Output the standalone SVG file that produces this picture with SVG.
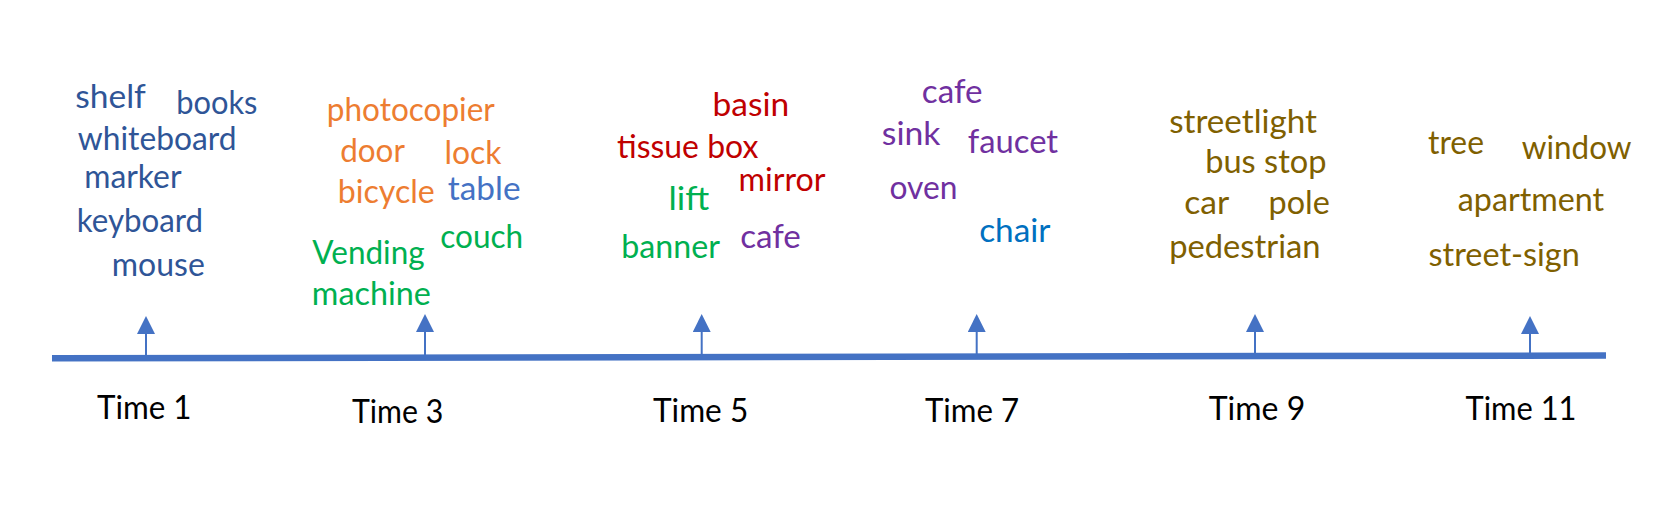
<svg xmlns="http://www.w3.org/2000/svg" width="1661" height="519" viewBox="0 0 1661 519">
<style>
text{font-family:Lato,"Open Sans","Liberation Sans",sans-serif;font-size:32px}
.b1{fill:#2F5597}.or{fill:#ED7D31}.bl{fill:#4472C4}.gr{fill:#00B050}.rd{fill:#C00000}.pu{fill:#7030A0}.cb{fill:#0070C0}.ol{fill:#7F6000}.tm{fill:#000000}
.stem{stroke:#4472C4;stroke-width:2;fill:none}
.axis{stroke:#4472C4;stroke-width:6.5;fill:none}
</style>
<defs>
<marker id="head" markerUnits="userSpaceOnUse" markerWidth="18" markerHeight="18" viewBox="0 0 17 17" refX="0" refY="8.5" orient="auto">
<path d="M0,0 L17,8.5 L0,17 z" fill="#4472C4"/>
</marker>
</defs>
<rect width="1661" height="519" fill="#ffffff"/>
<g id="connectors">
<line class="axis" x1="52" y1="358.3" x2="1606" y2="355.5"/>
<line class="stem" x1="146" y1="357" x2="146" y2="334" marker-end="url(#head)"/>
<line class="stem" x1="425" y1="357" x2="425" y2="332" marker-end="url(#head)"/>
<line class="stem" x1="701.7" y1="357" x2="701.7" y2="332" marker-end="url(#head)"/>
<line class="stem" x1="976.7" y1="356" x2="976.7" y2="332" marker-end="url(#head)"/>
<line class="stem" x1="1255" y1="356" x2="1255" y2="332" marker-end="url(#head)"/>
<line class="stem" x1="1530" y1="356" x2="1530" y2="334" marker-end="url(#head)"/>
</g>
<g id="time1">
<text class="b1" x="75.2" y="107.7" textLength="70.7" lengthAdjust="spacingAndGlyphs">shelf</text>
<text class="b1" x="176.2" y="114.3" textLength="81.3" lengthAdjust="spacingAndGlyphs">books</text>
<text class="b1" x="77.8" y="150" textLength="158.7" lengthAdjust="spacingAndGlyphs">whiteboard</text>
<text class="b1" x="84.2" y="187.7" textLength="97.3" lengthAdjust="spacingAndGlyphs">marker</text>
<text class="b1" x="76.8" y="231.7" textLength="126.3" lengthAdjust="spacingAndGlyphs">keyboard</text>
<text class="b1" x="111.8" y="276" textLength="93" lengthAdjust="spacingAndGlyphs">mouse</text>
<text class="tm" x="97" y="419.3" textLength="94.5" lengthAdjust="spacingAndGlyphs">Time 1</text>
</g>
<g id="time3">
<text class="or" x="326.8" y="121" textLength="168" lengthAdjust="spacingAndGlyphs">photocopier</text>
<text class="or" x="340.2" y="161.7" textLength="64.7" lengthAdjust="spacingAndGlyphs">door</text>
<text class="or" x="444.5" y="164.3" textLength="57" lengthAdjust="spacingAndGlyphs">lock</text>
<text class="or" x="337.8" y="203.3" textLength="97" lengthAdjust="spacingAndGlyphs">bicycle</text>
<text class="bl" x="447.8" y="200" textLength="72.7" lengthAdjust="spacingAndGlyphs">table</text>
<text class="gr" x="440.2" y="247.7" textLength="83" lengthAdjust="spacingAndGlyphs">couch</text>
<text class="gr" x="312.3" y="264" textLength="112.3" lengthAdjust="spacingAndGlyphs">Vending</text>
<text class="gr" x="311.8" y="305" textLength="119" lengthAdjust="spacingAndGlyphs">machine</text>
<text class="tm" x="352" y="422.7" textLength="91.3" lengthAdjust="spacingAndGlyphs">Time 3</text>
</g>
<g id="time5">
<text class="rd" x="712.5" y="116" textLength="76.7" lengthAdjust="spacingAndGlyphs">basin</text>
<text class="rd" x="617" y="157.7" textLength="141.3" lengthAdjust="spacingAndGlyphs">tissue box</text>
<text class="rd" x="738.5" y="191" textLength="87" lengthAdjust="spacingAndGlyphs">mirror</text>
<text class="gr" x="668.5" y="210" textLength="40.7" lengthAdjust="spacingAndGlyphs">lift</text>
<text class="gr" x="621.2" y="257.7" textLength="98.7" lengthAdjust="spacingAndGlyphs">banner</text>
<text class="pu" x="740.2" y="248.3" textLength="60.7" lengthAdjust="spacingAndGlyphs">cafe</text>
<text class="tm" x="653" y="421.7" textLength="95.2" lengthAdjust="spacingAndGlyphs">Time 5</text>
</g>
<g id="time7">
<text class="pu" x="921.8" y="103.3" textLength="60.7" lengthAdjust="spacingAndGlyphs">cafe</text>
<text class="pu" x="881.8" y="145" textLength="58.7" lengthAdjust="spacingAndGlyphs">sink</text>
<text class="pu" x="967.8" y="153.3" textLength="90.3" lengthAdjust="spacingAndGlyphs">faucet</text>
<text class="pu" x="889.5" y="199.3" textLength="68" lengthAdjust="spacingAndGlyphs">oven</text>
<text class="cb" x="979.2" y="242.3" textLength="71.3" lengthAdjust="spacingAndGlyphs">chair</text>
<text class="tm" x="925" y="421.7" textLength="94.2" lengthAdjust="spacingAndGlyphs">Time 7</text>
</g>
<g id="time9">
<text class="ol" x="1169.2" y="133.3" textLength="147.7" lengthAdjust="spacingAndGlyphs">streetlight</text>
<text class="ol" x="1205.2" y="172.7" textLength="121.3" lengthAdjust="spacingAndGlyphs">bus stop</text>
<text class="ol" x="1184.2" y="214" textLength="45" lengthAdjust="spacingAndGlyphs">car</text>
<text class="ol" x="1268.5" y="214" textLength="61.3" lengthAdjust="spacingAndGlyphs">pole</text>
<text class="ol" x="1169.2" y="257.7" textLength="151.3" lengthAdjust="spacingAndGlyphs">pedestrian</text>
<text class="tm" x="1208.8" y="420" textLength="96.5" lengthAdjust="spacingAndGlyphs">Time 9</text>
</g>
<g id="time11">
<text class="ol" x="1428" y="154" textLength="56" lengthAdjust="spacingAndGlyphs">tree</text>
<text class="ol" x="1521.8" y="159.3" textLength="109.7" lengthAdjust="spacingAndGlyphs">window</text>
<text class="ol" x="1457.8" y="210.7" textLength="146.3" lengthAdjust="spacingAndGlyphs">apartment</text>
<text class="ol" x="1428.5" y="266" textLength="151.3" lengthAdjust="spacingAndGlyphs">street-sign</text>
<text class="tm" x="1465.5" y="420" textLength="111" lengthAdjust="spacingAndGlyphs">Time 11</text>
</g>
</svg>
